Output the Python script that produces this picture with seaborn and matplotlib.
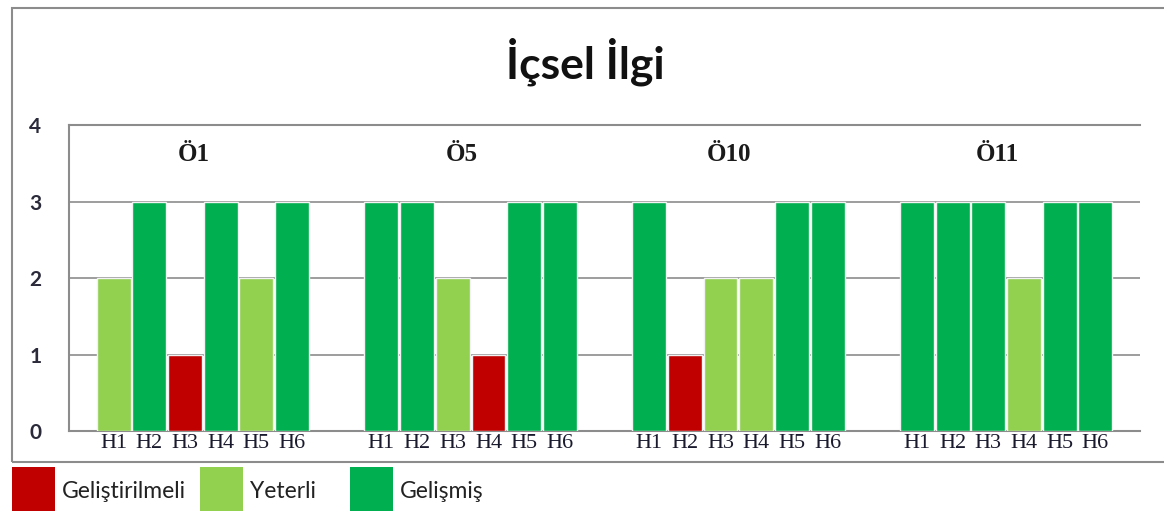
import matplotlib
matplotlib.use("Agg")
import matplotlib.pyplot as plt
from matplotlib.patches import Rectangle
import seaborn as sns
import pandas as pd

# ---- data ----
groups = ["Ö1", "Ö5", "Ö10", "Ö11"]
items = ["H1", "H2", "H3", "H4", "H5", "H6"]
o1 = [2, 3, 1, 3, 2, 3]
o5 = [3, 3, 2, 1, 3, 3]
o10 = [3, 1, 2, 2, 3, 3]
o11 = [3, 3, 3, 2, 3, 3]
level_names = {1: "Geliştirilmeli", 2: "Yeterli", 3: "Gelişmiş"}
level_colors = {"Geliştirilmeli": "#C00000", "Yeterli": "#92D050", "Gelişmiş": "#00B050"}
title = "İçsel İlgi"

series = [o1, o5, o10, o11]
slot = 7.5
rows = []
for gi, (g, vals) in enumerate(zip(groups, series)):
    for hi, (h, v) in enumerate(zip(items, vals)):
        rows.append({"pos": gi * slot + 0.75 + hi + 0.5, "group": g, "item": h,
                     "value": v, "level": level_names[v]})
df = pd.DataFrame(rows)

sns.set_theme(style="white")
plt.rcParams["font.family"] = ["Lato", "DejaVu Sans"]

fig = plt.figure(figsize=(11.64, 5.11), dpi=100)
ax = fig.add_axes([69 / 1164, 1 - 431 / 511, (1140 - 69) / 1164, (431 - 125) / 511])

sns.barplot(data=df, x="pos", y="value", hue="level", palette=level_colors,
            native_scale=True, dodge=False, width=0.95, legend=False, saturation=1,
            edgecolor="#f2f2f2", linewidth=1.0, ax=ax, zorder=3)

ax.set_xlim(0, slot * len(groups))
ax.set_ylim(0, 4)
ax.set_yticks([0, 1, 2, 3, 4])
ax.set_yticklabels(["0", "1", "2", "3", "4"], fontsize=15, fontweight="bold",
                   color="#2a2a3a")
ax.yaxis.grid(True, color="#8c8c8c", linewidth=1.2, zorder=0)
ax.set_axisbelow(True)
ax.set_xticks(df["pos"])
ax.set_xticklabels(df["item"], fontsize=16, family=["Liberation Serif", "DejaVu Serif"],
                   color="#1a1a2e")
ax.tick_params(axis="x", length=0, pad=2.5)
ax.tick_params(axis="y", length=0, pad=20)
ax.set_xlabel("")
ax.set_ylabel("")
for s in ["left", "top", "bottom"]:
    ax.spines[s].set_visible(True)
    ax.spines[s].set_color("#8c8c8c")
    ax.spines[s].set_linewidth(1.5)
ax.spines["right"].set_visible(False)

# group labels
for gi, g in enumerate(groups):
    ax.text(gi * slot + slot / 2 - 0.25, 3.61, g, ha="center", va="center", fontsize=18,
            fontweight="bold", family=["Liberation Serif", "DejaVu Serif"], color="#1a1a1a")

# title
fig.text(585 / 1164, 1 - 62 / 511, title, ha="center", va="center", fontsize=32,
         fontweight="bold", color="#111111")

# outer frame
fig.add_artist(Rectangle((12 / 1164, 1 - 462 / 511), 1.2, (462 - 8) / 511,
                         transform=fig.transFigure, facecolor="none",
                         edgecolor="#8c8c8c", linewidth=1.5))

# legend
leg_x = [12, 200, 350]
for x0, name in zip(leg_x, ["Geliştirilmeli", "Yeterli", "Gelişmiş"]):
    fig.add_artist(Rectangle((x0 / 1164, 1 - 511 / 511), 43 / 1164, 44 / 511,
                             transform=fig.transFigure, facecolor=level_colors[name],
                             edgecolor="none"))
    fig.text((x0 + 50) / 1164, 1 - 491 / 511, name, ha="left", va="center",
             fontsize=16.5, color="#222222")

fig.savefig("out.png", dpi=100)
